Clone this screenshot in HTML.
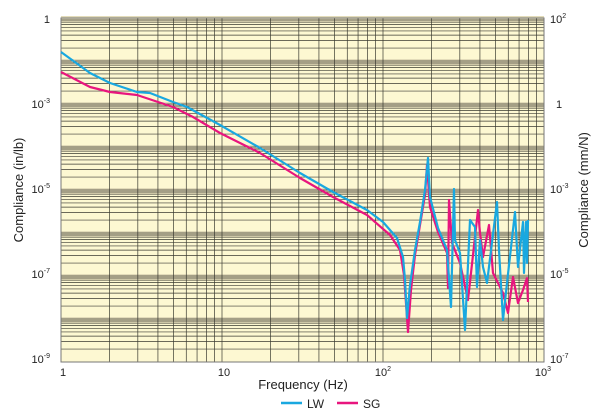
<!DOCTYPE html>
<html><head><style>
body{margin:0;background:#fff;}
svg{display:block;font-family:"Liberation Sans",Arial,sans-serif;}
</style></head><body>
<svg width="600" height="419" viewBox="0 0 600 419">
<rect x="61" y="18" width="483" height="344" fill="#fdf8d2"/>
<g id="bands" fill="#e3dcba"></g>
<g id="grid" stroke="#3a3a30" stroke-width="0.7"></g>
<rect x="61" y="18" width="483" height="344" fill="none" stroke="#777" stroke-width="1"/>
<polyline fill="none" stroke="#e8157e" stroke-width="2.2" stroke-linejoin="round" points="61,72 90,87 110,92 137,95 173,107 193,117 220,133 260,153 300,178 333,197 367,215 390,235 400,250 404,275 408,332 411,290 415,255 420,225 425,195 427,165 430,207 438,232 447,253 448,288 449,200 452,243 460,263 468,300 478,210 480,233 483,257 489,225 493,273 498,283 503,293 508,313 513,277 518,303 523,290 527,278 528,302"/>
<polyline fill="none" stroke="#19a8e0" stroke-width="2.2" stroke-linejoin="round" points="61,52 90,73 110,83 137,92 150,93 173,102 187,107 220,125 260,148 300,173 333,192 367,210 383,222 397,238 403,257 405,280 407,318 410,285 415,250 420,222 425,190 428,158 430,197 438,228 447,250 451,307 454,189 455,240 460,253 465,330 470,220 475,227 477,287 480,240 483,267 487,283 497,202 499,250 503,320 507,283 515,212 518,267 523,222 524,273 526,222 527,263 528,220"/>
<g font-size="11" fill="#222" text-anchor="end">
<text x="50" y="23">1</text>
<text x="50" y="108">10<tspan font-size="7" dy="-5">-3</tspan></text>
<text x="50" y="193">10<tspan font-size="7" dy="-5">-5</tspan></text>
<text x="50" y="278">10<tspan font-size="7" dy="-5">-7</tspan></text>
<text x="50" y="363">10<tspan font-size="7" dy="-5">-9</tspan></text>
</g>
<g font-size="11" fill="#222">
<text x="550" y="23">10<tspan font-size="7" dy="-5">2</tspan></text>
<text x="556" y="108">1</text>
<text x="550" y="193">10<tspan font-size="7" dy="-5">-3</tspan></text>
<text x="550" y="278">10<tspan font-size="7" dy="-5">-5</tspan></text>
<text x="550" y="363">10<tspan font-size="7" dy="-5">-7</tspan></text>
</g>
<g font-size="11" fill="#222" text-anchor="middle">
<text x="63" y="376">1</text>
<text x="224" y="376">10</text>
<text x="383" y="376">10<tspan font-size="7" dy="-5">2</tspan></text>
<text x="543" y="376">10<tspan font-size="7" dy="-5">3</tspan></text>
</g>
<text x="303" y="389" font-size="13" text-anchor="middle" fill="#222">Frequency (Hz)</text>
<text transform="translate(23,190) rotate(-90)" font-size="13" text-anchor="middle" fill="#222">Compliance (in/lb)</text>
<text transform="translate(588,190) rotate(-90)" font-size="13" text-anchor="middle" fill="#222">Compliance (mm/N)</text>
<line x1="281" y1="403" x2="302" y2="403" stroke="#19a8e0" stroke-width="2.5"/>
<text x="307" y="408" font-size="12" fill="#222">LW</text>
<line x1="337" y1="403" x2="358" y2="403" stroke="#e8157e" stroke-width="2.5"/>
<text x="363" y="408" font-size="12" fill="#222">SG</text>
</svg>
<script>
(function(){
var g=document.getElementById('grid'),b=document.getElementById('bands'),ns='http://www.w3.org/2000/svg';
function ln(x1,y1,x2,y2){var l=document.createElementNS(ns,'line');l.setAttribute('x1',x1);l.setAttribute('y1',y1);l.setAttribute('x2',x2);l.setAttribute('y2',y2);g.appendChild(l);}
var L=61,R=544,T=18,B=362,dx=(R-L)/3,dy=(B-T)/8;
for(var d=0;d<3;d++)for(var m=1;m<10;m++){var x=L+dx*(d+Math.log10(m));ln(x,T,x,B);}
for(var d=0;d<8;d++){var ty=T+dy*d;
 var r=document.createElementNS(ns,'rect');r.setAttribute('x',L);r.setAttribute('y',ty-2);r.setAttribute('width',R-L);r.setAttribute('height',6);b.appendChild(r);
 for(var m=1;m<10;m++){var y=ty+dy*(1-Math.log10(m));ln(L,y,R,y);}}
})();
</script>
</body></html>
